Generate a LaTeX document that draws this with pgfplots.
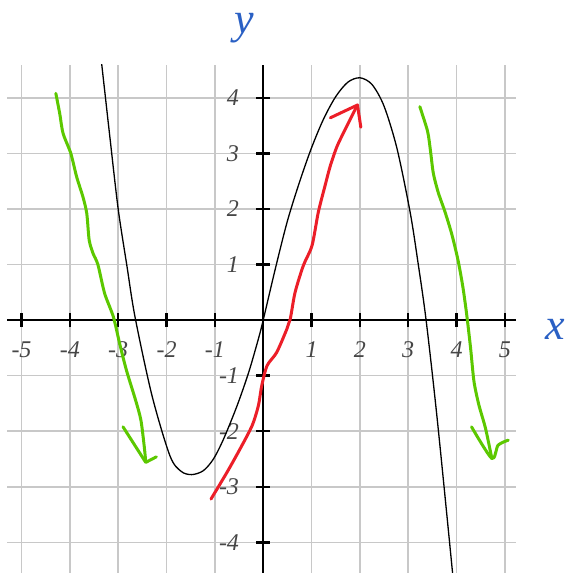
\documentclass[border=0pt]{standalone}
\usepackage{pgfplots}
\pgfplotsset{compat=1.18}
\usepackage{fontspec}
\setmainfont{Liberation Serif}

\definecolor{gridgray}{RGB}{200,200,200}
\definecolor{ticktext}{RGB}{70,70,70}
\definecolor{penred}{RGB}{236,30,40}
\definecolor{pengreen}{RGB}{92,200,0}
\definecolor{penblue}{RGB}{42,96,196}

\begin{document}
\begin{tikzpicture}
\useasboundingbox (0pt,0pt) rectangle (574pt,573pt);
\begin{axis}[
  at={(7pt,0pt)}, anchor=south west,
  scale only axis, width=509pt, height=508pt,
  xmin=-5.30, xmax=5.23, ymin=-4.55, ymax=4.59,
  axis lines*=middle,
  axis line style={line width=2.6pt, black},
  xtick={-5,-4,-3,-2,-1,1,2,3,4,5},
  xticklabels={-5,-4,-3,-2,-1,1,2,3,4,5},
  ytick={-4,-3,-2,-1,1,2,3,4},
  yticklabels={-4,-3,-2,-1,1,2,3,4},
  tick align=center,
  major tick length=14pt,
  every tick/.style={line width=2.4pt, black},
  tick label style={font=\fontsize{24}{24}\selectfont\itshape, text=ticktext, inner sep=0pt},
  xticklabel style={anchor=base, yshift=-30pt},
  yticklabel style={anchor=east, xshift=-17pt},
  grid=major,
  major grid style={line width=1.6pt, gridgray},
  xlabel={x}, ylabel={y},
  every axis x label/.style={at={(rel axis cs:1.077,0.480)}, anchor=center,
    font=\fontsize{44}{44}\selectfont\itshape, text=penblue},
  every axis y label/.style={at={(rel axis cs:0.466,1.073)}, anchor=center,
    font=\fontsize{44}{44}\selectfont\itshape, text=penblue},
  pen/.style={line width=3pt, line cap=round, line join=round},
  clip=true,
]
% the graph of the function
\addplot[black, line width=1.3pt, smooth] coordinates {
  (-3.36,4.75) (-3.34,4.60) (-3.17,3.28) (-3.00,2.00) (-2.82,0.98)
  (-2.65,0.05) (-2.30,-1.36) (-1.93,-2.44) (-1.70,-2.72) (-1.48,-2.78)
  (-1.24,-2.71) (-1.03,-2.50) (-0.82,-2.14) (-0.54,-1.54) (-0.30,-0.94)
  (-0.10,-0.34) (0,0) (0.25,0.92) (0.5,1.78) (0.75,2.48) (1.0,3.10)
  (1.25,3.62) (1.5,4.02) (1.75,4.28) (2.0,4.36) (2.25,4.24) (2.5,3.85)
  (2.77,3.08) (3.04,1.94) (3.20,1.05) (3.37,0) (3.6,-1.78) (3.91,-4.48)
  (3.93,-4.70)
};
% red pen stroke (rising middle part)
\addplot[penred, pen, smooth, tension=0.45] coordinates {
  (-1.08,-3.22) (-0.75,-2.74) (-0.48,-2.32) (-0.23,-1.90) (-0.10,-1.54)
  (-0.03,-1.18) (0.08,-0.82) (0.28,-0.58) (0.49,-0.16) (0.56,0.02)
  (0.66,0.50) (0.83,0.98) (1.01,1.34) (1.14,1.94) (1.28,2.42) (1.39,2.78)
  (1.53,3.13) (1.73,3.49) (1.95,3.87)
};
\addplot[penred, pen] coordinates {
  (1.39,3.64) (1.95,3.87) (2.02,3.47)
};
% green pen stroke, left end
\addplot[pengreen, pen, smooth, tension=0.45] coordinates {
  (-4.29,4.08) (-4.21,3.72) (-4.14,3.36) (-3.98,3.0) (-3.86,2.58)
  (-3.73,2.22) (-3.65,1.92) (-3.60,1.44) (-3.52,1.20) (-3.42,1.0)
  (-3.28,0.48) (-3.10,0.06) (-2.97,-0.42) (-2.83,-0.90) (-2.64,-1.44)
  (-2.53,-1.80) (-2.46,-2.28) (-2.43,-2.55)
};
\addplot[pengreen, pen] coordinates {
  (-2.90,-1.92) (-2.43,-2.56) (-2.21,-2.46)
};
% green pen stroke, right end
\addplot[pengreen, pen, smooth, tension=0.45] coordinates {
  (3.24,3.84) (3.40,3.40) (3.46,3.05) (3.52,2.64) (3.62,2.30) (3.76,1.95)
  (3.90,1.55) (4.03,1.08) (4.13,0.60) (4.21,0.10) (4.29,-0.50)
  (4.36,-1.10) (4.46,-1.52) (4.60,-1.95) (4.73,-2.49)
};
\addplot[pengreen, pen, smooth, tension=0.45] coordinates {
  (4.31,-1.92) (4.73,-2.49) (4.86,-2.25) (5.07,-2.16)
};
\end{axis}
\end{tikzpicture}
\end{document}
